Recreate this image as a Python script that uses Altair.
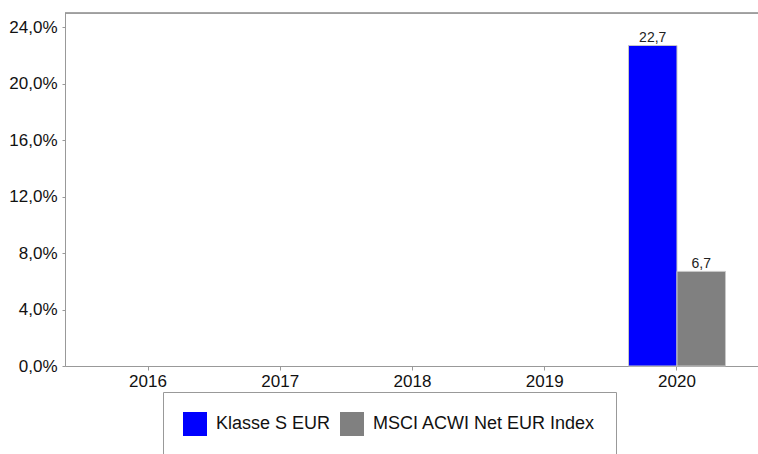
import altair as alt
import pandas as pd

years = ["2016", "2017", "2018", "2019", "2020"]
series = ["Klasse S EUR", "MSCI ACWI Net EUR Index"]
fund_values = [None, None, None, None, 22.7]
index_values = [None, None, None, None, 6.7]
y_ticks = [0, 4, 8, 12, 16, 20, 24]
colors = ["#0000FF", "#808080"]

rows = []
for i, y in enumerate(years):
    rows.append({"year": y, "series": series[0], "value": fund_values[i], "order": 0})
    rows.append({"year": y, "series": series[1], "value": index_values[i], "order": 1})
df = pd.DataFrame(rows)
df["label"] = df["value"].apply(lambda v: None if pd.isna(v) else f"{v:.1f}".replace(".", ","))

FONT = "Liberation Sans"

x_scale = alt.Scale(domain=years, paddingInner=0.2665, paddingOuter=0.261, range=[0, 695])
x_enc = alt.X("year:N", scale=x_scale,
              axis=alt.Axis(title=None, labelAngle=0, labelFontSize=17, labelFont=FONT,
                            labelColor="#111", domainColor="#999", tickColor="#999",
                            tickSize=4, labelPadding=3, grid=False))
y_scale = alt.Scale(domain=[0, 25], nice=False)
x_off = alt.XOffset("series:N", sort=series)

bars = alt.Chart(df).mark_bar(stroke="#c8c8c8", strokeWidth=1).encode(
    x=x_enc,
    xOffset=x_off,
    y=alt.Y("value:Q", scale=y_scale,
            axis=alt.Axis(title=None, values=y_ticks, grid=False, labelFontSize=17, labelFont=FONT,
                          labelColor="#111", domainColor="#999", tickColor="#999", tickSize=3,
                          labelPadding=5,
                          labelExpr="replace(format(datum.value, '.1f'), '.', ',') + '%'")),
    color=alt.Color("series:N", sort=series,
                    scale=alt.Scale(domain=series, range=colors),
                    legend=alt.Legend(title=None, orient="none", legendX=98, legendY=379,
                                      direction="horizontal", symbolType="square",
                                      symbolSize=576, symbolStrokeWidth=0, labelFontSize=18,
                                      labelFont=FONT, labelColor="#111", labelOffset=9,
                                      columnPadding=9, padding=20, strokeColor="#999",
                                      fillColor="white", labelLimit=400)),
)

text = alt.Chart(df).mark_text(dy=-7, fontSize=14, font=FONT, color="#222").encode(
    x=alt.X("year:N", scale=x_scale),
    xOffset=x_off,
    y=alt.Y("value:Q", scale=y_scale),
    text="label:N",
)

top_rule = alt.Chart(pd.DataFrame({"v": [0]})).mark_rule(color="#888", strokeWidth=1.5).encode(
    x=alt.value(0), x2=alt.value(700), y=alt.value(0)
)

chart = alt.layer(bars, text, top_rule).properties(
    width=693, height=353,
    padding={"left": 65, "top": 13, "right": 0, "bottom": 88},
    autosize=alt.AutoSizeParams(type="none"),
).configure_view(stroke=None).configure(background="white")

chart.save("out.html", embed_options={"renderer": "svg", "actions": False})
